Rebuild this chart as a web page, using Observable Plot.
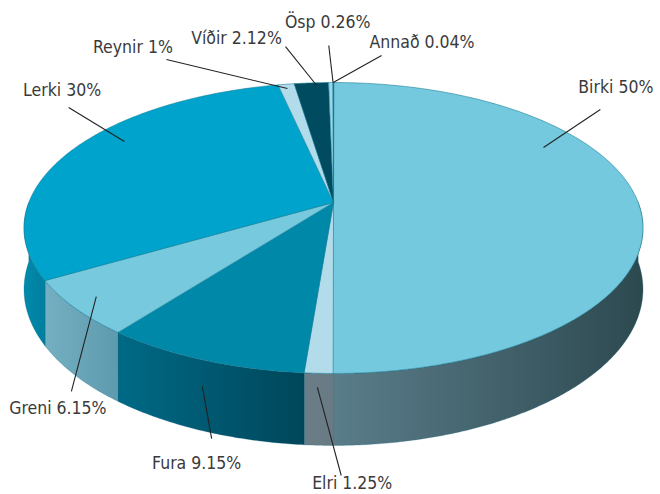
<!DOCTYPE html>
<html><head><meta charset="utf-8">
<script src="https://cdn.jsdelivr.net/npm/d3@7"></script>
<script src="https://cdn.jsdelivr.net/npm/@observablehq/plot@0.6"></script>
<style>html,body{margin:0;padding:0;background:#fff;} #chart{width:660px;height:494px;}</style>
</head><body><div id="chart"></div>
<script>
// ---- data ----
const species = ["Birki", "Elri", "Fura", "Greni", "Lerki", "Reynir", "Víðir", "Ösp", "Annað"];
const shares  = [50, 1.25, 9.15, 6.15, 30, 1, 2.12, 0.26, 0.04];

// ---- styles ----
const topColors = ["#74c9de", "#b3dceb", "#0088a9", "#77c9de", "#00a3cb", "#b3dceb", "#004b5f", "#9fd6e6", "#0b5f75"];
const wallLeft  = ["#5a7d8a", "#6b7e88", "#006a86", "#74b0c2", "#008aab", "#8fb9c6", "#003c4c", "#7fb3c3", "#0b5f75"];
const wallRight = ["#2d4950", "#687b85", "#00465a", "#5e9aad", "#007f9f", "#8fb9c6", "#003c4c", "#7fb3c3", "#0b5f75"];

// ---- layout (pie-space anchors: [angle°, radius, depth]) ----
const labelLayout = [
  {a: [60.5, 0.85, 0],    b: [53, 1.24, 0],      dx: 15.5, dy: -22},
  {a: [182.5, 1, 0.083],  b: [178.8, 1, 0.597],  dx: 11,   dy: 8},
  {a: [201.1, 1, 0.158],  b: [199.5, 1, 0.455],  dx: -15,  dy: 25},
  {a: [229.4, 0.918, 0],  b: [229.7, 1, 0.541],  dx: -13.5, dy: 17},
  {a: [302.2, 0.8775, 0], b: [307.8, 1.2475, 0], dx: -6.5, dy: -17},
  {a: [349.4, 0.958, 0],  b: [331.6, 1.402, 0],  dx: -33.5, dy: -12},
  {a: [356.2, 0.973, 0],  b: [351.9, 1.386, 0],  dx: -49,  dy: -8},
  {a: [359.9, 1.0, 0],    b: [359.2, 1.384, 0],  dx: -1,   dy: -23},
  {a: [359.95, 1.0, 0],   b: [8.6, 1.29, 0],     dx: 40.5, dy: -13}
];
const K = 0.1753, DEPTH = 0.421;         // perspective & thickness
const CX = 333, CY = 202, SX = 304.7, SY = 141;

// ---- geometry ----
const total = d3.sum(shares);
let acc = 0;
const slices = species.map((name, i) => {
  const start = acc / total * 360; acc += shares[i];
  return {i, name, start, end: acc / total * 360};
});
function proj(deg, r, h) {
  const t = deg * Math.PI / 180;
  const a = r * Math.sin(t), b = r * Math.cos(t);
  const w = 1 + K * b;
  return [a / w, (b - h) / w];
}
function arc(a0, a1, r, h) {
  const n = Math.max(2, Math.ceil(Math.abs(a1 - a0) / 0.5) + 1);
  return d3.range(n).map(j => proj(a0 + (a1 - a0) * j / (n - 1), r, h));
}
const topPts = [];
slices.forEach(s => {
  [proj(0, 0, 0), ...arc(s.start, s.end, 1, 0)]
    .forEach(([x, y]) => topPts.push({id: s.i, x, y, fill: topColors[s.i]}));
});
const wallPts = [];
slices.forEach(s => {
  const lo = Math.max(s.start, 90), hi = Math.min(s.end, 270);
  if (hi <= lo) return;
  [...arc(lo, hi, 1, 0), ...arc(hi, lo, 1, DEPTH)]
    .forEach(([x, y]) => wallPts.push({id: s.i, x, y, fill: `url(#wall-${s.i})`}));
});
const labelData = slices.map((s, i) => {
  const L = labelLayout[i];
  const [x1, y1] = proj(...L.a), [x2, y2] = proj(...L.b);
  return {x1, y1, x2, y2, text: `${s.name} ${shares[i]}%`};
});

const font = "'DejaVu Sans Condensed', 'DejaVu Sans', sans-serif";
const chart = Plot.plot({
  width: 660, height: 494, margin: 0,
  x: {domain: [-1, 1], range: [CX - SX, CX + SX], axis: null},
  y: {domain: [1, -1], range: [CY - SY, CY + SY], axis: null},
  color: {type: "identity"},
  style: {background: "#fff", overflow: "visible"},
  marks: [
    Plot.line(wallPts, {x: "x", y: "y", z: "id", fill: "fill", stroke: "#0d6178", strokeWidth: 0.5, strokeOpacity: 0.5, curve: "linear-closed"}),
    Plot.line(topPts, {x: "x", y: "y", z: "id", fill: "fill", stroke: "#127a93", strokeWidth: 0.7, strokeOpacity: 0.8, curve: "linear-closed"}),
    Plot.link(labelData, {x1: "x1", y1: "y1", x2: "x2", y2: "y2", stroke: "#222", strokeWidth: 1.1}),
    ...labelData.map((d, i) => Plot.text([d], {
      x: "x2", y: "y2", text: "text", dx: labelLayout[i].dx, dy: labelLayout[i].dy,
      fontSize: 17.5, fontFamily: font, fontStretch: "condensed", fill: "#3a3a3a"
    }))
  ]
});
// wall gradients
const defs = d3.select(chart).insert("defs", ":first-child");
slices.forEach(s => {
  const g = defs.append("linearGradient").attr("id", `wall-${s.i}`)
    .attr("x1", 0).attr("y1", 0).attr("x2", 1).attr("y2", 0);
  g.append("stop").attr("offset", 0).attr("stop-color", wallLeft[s.i]);
  g.append("stop").attr("offset", 1).attr("stop-color", wallRight[s.i]);
});
document.getElementById("chart").appendChild(chart);
</script></body></html>
